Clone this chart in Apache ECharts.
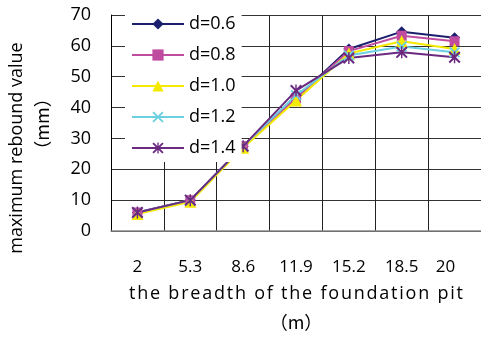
<!DOCTYPE html>
<html><head><meta charset="utf-8">
<script src="https://cdn.jsdelivr.net/npm/echarts@6/dist/echarts.min.js"></script>
<style>html,body{margin:0;padding:0;background:#fff}#c{width:481px;height:345px}</style>
</head><body><div id="c"></div>
<script>
const categories = ['2', '5.3', '8.6', '11.9', '15.2', '18.5', '20'];
const yTicks = [0, 10, 20, 30, 40, 50, 60, 70];
const seriesNames = ['d=0.6', 'd=0.8', 'd=1.0', 'd=1.2', 'd=1.4'];
const d06 = [6, 10, 27.5, 43, 59, 64.6, 62.6];
const d08 = [6, 10, 27.5, 43, 58.3, 63.3, 61.5];
const d10 = [5.5, 9.5, 27, 42.3, 57.5, 61.5, 59];
const d12 = [6, 10, 27.5, 44, 56.9, 59.8, 57.9];
const d14 = [6, 10, 27.5, 45.5, 56.1, 57.9, 56.3];
const xTitle = 'the breadth of the foundation pit';
const xUnit = '（m）';
const yTitle = 'maximum rebound value';
const yUnit = '（mm）';

const colors = ['#1b1f6e', '#c04ca0', '#f4ea00', '#6cd0e0', '#6b2a80'];
const xPath = 'path://M0,1.2 L1.2,0 L5,3.8 L8.8,0 L10,1.2 L6.2,5 L10,8.8 L8.8,10 L5,6.2 L1.2,10 L0,8.8 L3.8,5 Z';
const starPath = 'path://M0,1.2 L1.2,0 L5,3.8 L8.8,0 L10,1.2 L6.2,5 L10,8.8 L8.8,10 L5,6.2 L1.2,10 L0,8.8 L3.8,5 Z M4.4,0 L5.6,0 L5.6,10 L4.4,10 Z';
const symbols = ['diamond', 'rect', 'triangle', xPath, starPath];
const sizes = [11, 10, 12, 11, 12];
const dataSets = [d06, d08, d10, d12, d14];
const font = 'Open Sans';

// spaced text: each character as a text element, spread to a target width, centred at (cx, cy)
const mctx = document.createElement('canvas').getContext('2d');
function spacedText(str, fontSize, targetWidth, cx, cy, rotation) {
  mctx.font = fontSize + 'px "' + font + '"';
  const chars = Array.from(str);
  const widths = chars.map(c => mctx.measureText(c).width);
  const natural = widths.reduce((a, b) => a + b, 0);
  const gap = Math.max(0, (targetWidth - natural) / (chars.length - 1));
  const total = natural + gap * (chars.length - 1);
  let x = -total / 2;
  const children = chars.map((c, i) => {
    const el = {type: 'text', x: x, y: 0, style: {text: c, fontFamily: font, fontSize: fontSize, fill: '#000', textAlign: 'left', textVerticalAlign: 'middle'}};
    x += widths[i] + gap;
    return el;
  });
  return {type: 'group', x: cx, y: cy, rotation: rotation || 0, children: children};
}

const chart = echarts.init(document.getElementById('c'), null, {renderer: 'canvas'});
chart.setOption({
  animation: false,
  backgroundColor: '#fff',
  grid: {left: 111, right: -4, top: 15, bottom: 114, containLabel: false},
  legend: {
    orient: 'vertical', left: 125, top: 8, z: 10,
    padding: [7, 6, 5, 6],
    backgroundColor: '#fff',
    itemWidth: 52, itemHeight: 14, itemGap: 13,
    textStyle: {fontFamily: font, fontSize: 18, color: '#000', lineHeight: 14},
    data: seriesNames
  },
  xAxis: {
    type: 'category', data: categories, boundaryGap: true,
    axisLine: {show: true, lineStyle: {color: '#888', width: 1.5}},
    axisTick: {show: false},
    splitLine: {show: true, interval: 0, lineStyle: {color: '#222', width: 1}},
    axisLabel: {
      interval: 0, margin: 28, fontFamily: font, fontSize: 17, color: '#000',
      formatter: (v, i) => i === categories.length - 1 ? '{r|' + v + '}' : v,
      rich: {r: {fontFamily: font, fontSize: 17, color: '#000', padding: [0, 18, 0, 0]}}
    }
  },
  yAxis: {
    type: 'value', min: yTicks[0], max: yTicks[yTicks.length - 1], interval: 10,
    axisLine: {show: true, lineStyle: {color: '#000', width: 1}},
    axisTick: {show: false},
    splitLine: {show: true, lineStyle: {color: '#333', width: 1}},
    axisLabel: {margin: 20, fontFamily: font, fontSize: 18, color: '#000'}
  },
  graphic: [
    spacedText(xTitle, 18, 334, 296, 294, 0),
    {type: 'text', x: 296, y: 322, style: {text: xUnit, fontFamily: 'Noto Sans CJK SC', fontSize: 18, fill: '#000', textAlign: 'center', textVerticalAlign: 'middle'}},
    spacedText(yTitle, 18, 203, 17, 148, Math.PI / 2),
    {type: 'text', x: 42, y: 124, rotation: Math.PI / 2, style: {text: yUnit, fontFamily: 'Noto Sans CJK SC', fontSize: 18, fill: '#000', textAlign: 'center', textVerticalAlign: 'middle'}}
  ],
  series: seriesNames.map((n, i) => ({
    name: n, type: 'line', data: dataSets[i],
    symbol: symbols[i], symbolSize: sizes[i], showAllSymbol: true,
    lineStyle: {color: colors[i], width: 2},
    itemStyle: {color: colors[i], borderWidth: 0}
  }))
});
</script></body></html>
